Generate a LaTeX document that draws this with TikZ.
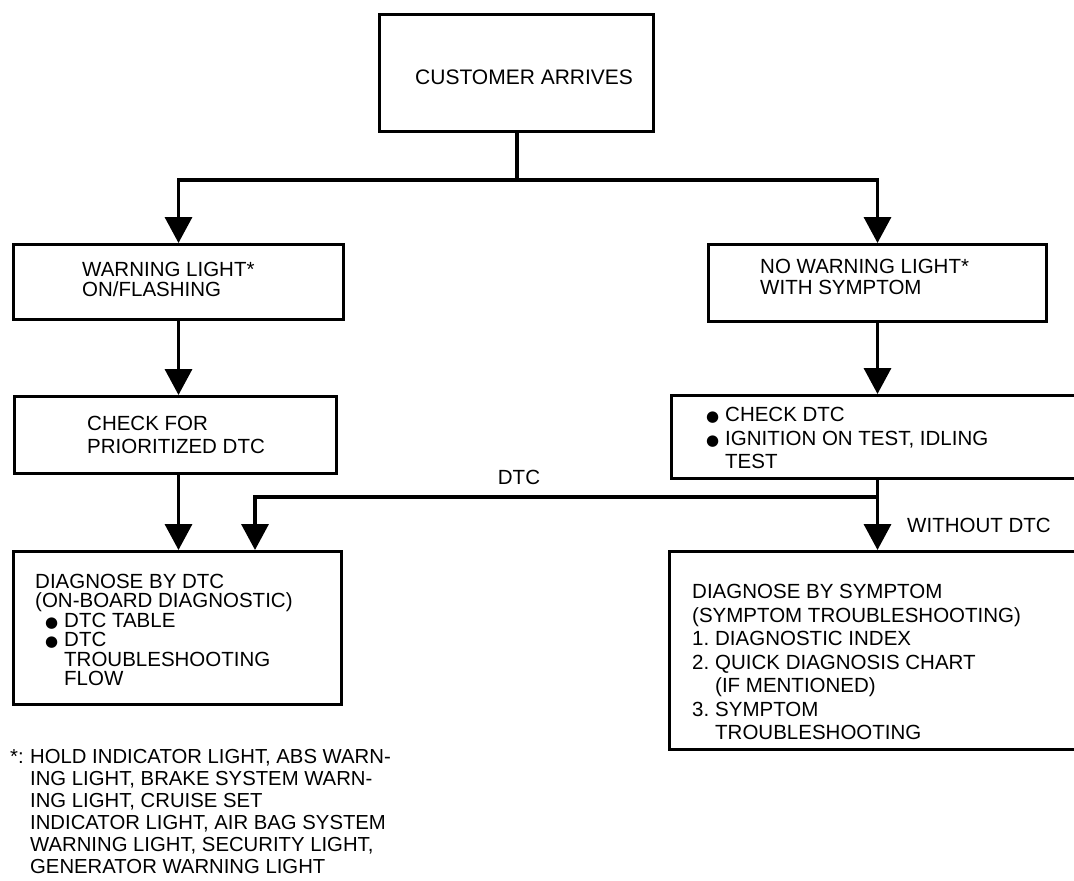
\documentclass[tikz,border=0pt]{standalone}
\usepackage{fontspec}
\setmainfont{Liberation Sans}
\newfontfamily\symfont{DejaVu Sans}
\usetikzlibrary{arrows.meta}
\tikzset{
  box/.style={draw, line width=3pt, rectangle, anchor=north west, inner sep=0pt},
  txt/.style={anchor=west, inner sep=0pt, align=left},
  conn/.style={line width=3.5pt},
  arr/.style={line width=3.5pt, -{Triangle[width=27pt,length=26pt]}},
}
\newcommand{\blt}{\makebox[19pt][l]{\symfont\fontsize{15}{15}\selectfont ●}}
\begin{document}
\begin{tikzpicture}[x=1pt,y=-1pt]
\useasboundingbox (0,0) rectangle (1074,881);
\fill[white] (0,0) rectangle (1074,881);
\clip (0,0) rectangle (1074,881);

% boxes
\node[box, minimum width=274pt, minimum height=117pt] (top) at (378,13) {};
\node[box, minimum width=330pt, minimum height=75pt] (A) at (12,243) {};
\node[box, minimum width=338pt, minimum height=77pt] (B) at (707,243) {};
\node[box, minimum width=322pt, minimum height=77pt] (C) at (13,395) {};
\node[box, minimum width=420pt, minimum height=83pt] (D) at (670,394) {};
\node[box, minimum width=328pt, minimum height=153pt] (E) at (12,550) {};
\node[box, minimum width=420pt, minimum height=198pt] (F) at (668,550) {};

% texts
\node[txt, font=\fontsize{21}{22}\selectfont] (topT) at (415,77) {CUSTOMER ARRIVES};
\node[txt, font=\fontsize{20.5}{20}\selectfont] (AT) at (82,279) {WARNING LIGHT*\\ON/FLASHING};
\node[txt, font=\fontsize{20.5}{21}\selectfont] (BT) at (760,277) {NO WARNING LIGHT*\\WITH SYMPTOM};
\node[txt, font=\fontsize{20.5}{23}\selectfont] (CT) at (87,435) {CHECK FOR\\PRIORITIZED DTC};
\node[txt, font=\fontsize{20.5}{23.5}\selectfont] (DT) at (706,438)
  {\blt CHECK DTC\\\blt IGNITION ON TEST, IDLING\\\hspace*{19pt}TEST};
\node[txt, font=\fontsize{20.5}{19.4}\selectfont] (ET) at (35,630)
  {DIAGNOSE BY DTC\\(ON-BOARD DIAGNOSTIC)\\\hspace*{10pt}\blt DTC TABLE\\\hspace*{10pt}\blt DTC\\\hspace*{29pt}TROUBLESHOOTING\\\hspace*{29pt}FLOW};
\node[txt, font=\fontsize{20.5}{23.5}\selectfont] (FT) at (692,662)
  {DIAGNOSE BY SYMPTOM\\(SYMPTOM TROUBLESHOOTING)\\\makebox[23pt][l]{1.}DIAGNOSTIC INDEX\\\makebox[23pt][l]{2.}QUICK DIAGNOSIS CHART\\\hspace*{23pt}(IF MENTIONED)\\\makebox[23pt][l]{3.}SYMPTOM\\\hspace*{23pt}TROUBLESHOOTING};
\node[txt, font=\fontsize{20.3}{22}\selectfont] (note) at (10,812)
  {\makebox[20pt][l]{*:}HOLD INDICATOR LIGHT, ABS WARN-\\\hspace*{20pt}ING LIGHT, BRAKE SYSTEM WARN-\\\hspace*{20pt}ING LIGHT, CRUISE SET\\\hspace*{20pt}INDICATOR LIGHT, AIR BAG SYSTEM\\\hspace*{20pt}WARNING LIGHT, SECURITY LIGHT,\\\hspace*{20pt}GENERATOR WARNING LIGHT};

% connector labels
\node[inner sep=0pt, font=\fontsize{20.5}{20}\selectfont] (dtcL) at (519,477) {DTC};
\node[txt, font=\fontsize{20.5}{20}\selectfont] (woL) at (907,525) {WITHOUT DTC};

% connectors
\coordinate (split) at (517,180);
\coordinate (dj) at (877,497);
\coordinate (Ein) at (255,550);
\draw[conn] (top.south -| split) -- (split);
\draw[arr] (split) -| (A.north);
\draw[arr] (split) -| (B.north);
\draw[arr] (A.south) -- (A.south |- C.north);
\draw[arr] (A.south |- C.south) -- (A.south |- E.north);
\draw[arr] (B.south) -- (B.south |- D.north);
\draw[arr] (B.south |- D.south) -- (B.south |- F.north);
\draw[arr] (dj) -| (Ein);
\end{tikzpicture}
\end{document}
